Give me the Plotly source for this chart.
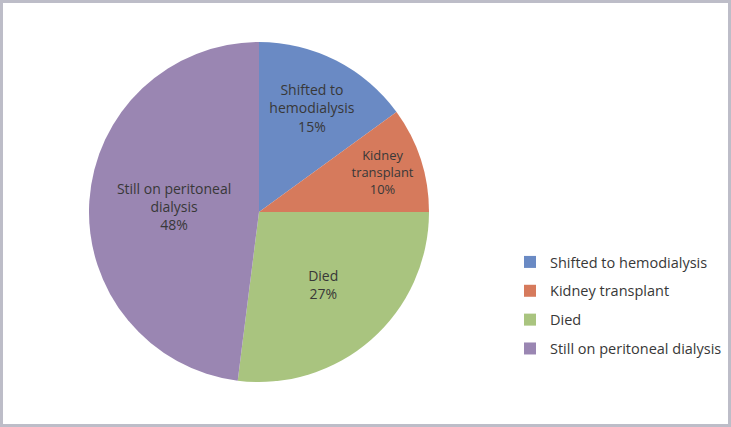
import plotly.graph_objects as go

# outcome categories and their shares (%)
labels = ["Shifted to hemodialysis", "Kidney transplant", "Died", "Still on peritoneal dialysis"]
slice_text = ["Shifted to<br>hemodialysis", "Kidney<br>transplant", "Died", "Still on peritoneal<br>dialysis"]
values = [15, 10, 27, 48]
colors = ["#6A8AC4", "#D67A5C", "#A9C47F", "#9A86B2"]

W, H = 731, 427
FONT = "Open Sans, Liberation Sans, sans-serif"

fig = go.Figure(go.Pie(
    labels=labels,
    values=values,
    text=slice_text,
    texttemplate="%{text}<br>%{percent:.0%}",
    textposition="inside",
    insidetextorientation="horizontal",
    sort=False,
    direction="clockwise",
    rotation=0,
    marker=dict(colors=colors, line=dict(width=0)),
    textfont=dict(family=FONT, size=14, color="#383838"),
    domain=dict(x=[89 / W, 429 / W], y=[45 / H, 385 / H]),
    hoverinfo="label+percent",
))

# invisible helper so the legend keeps slices as separate groups (gap between entries)
fig.add_trace(go.Scatter(x=[None], y=[None], mode="markers", name=" ",
                         legendgroup="pad", hoverinfo="skip",
                         marker=dict(size=0, color="rgba(0,0,0,0)", line=dict(width=0))))

fig.update_layout(
    width=W,
    height=H,
    margin=dict(l=0, r=0, t=0, b=0),
    paper_bgcolor="white",
    plot_bgcolor="white",
    xaxis=dict(visible=False),
    yaxis=dict(visible=False),
    showlegend=True,
    legend=dict(
        x=510 / W, y=1 - 246 / H, xanchor="left", yanchor="top",
        traceorder="grouped", tracegroupgap=7,
        font=dict(family=FONT, size=14.5, color="#383838"),
        itemwidth=30,
    ),
    shapes=[dict(type="rect", xref="paper", yref="paper",
                 x0=1.5 / W, y0=1.5 / H, x1=1 - 1.5 / W, y1=1 - 1.5 / H,
                 line=dict(color="#BDBDC8", width=3))],
)

fig.write_html("out.html", config={"displayModeBar": False},
               post_script="document.body.style.margin='0px';")
